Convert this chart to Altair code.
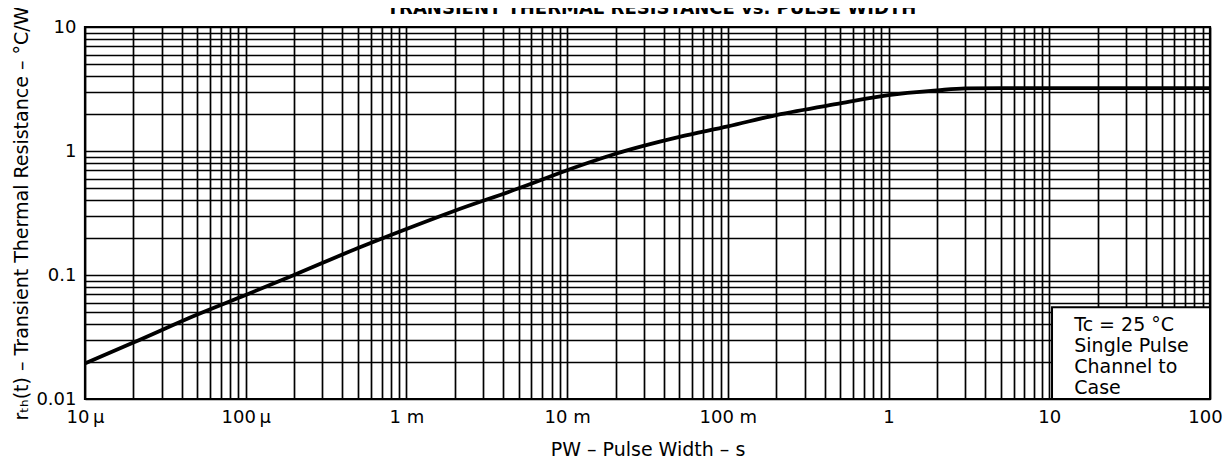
import json
import altair as alt
import pandas as pd

# ---- data ----
pulse_width = [1e-5, 2e-5, 5e-5, 1e-4, 2e-4, 5e-4, 1e-3, 2e-3, 5e-3, 1e-2, 2e-2,
               5e-2, 0.1, 0.2, 0.5, 1, 2, 3, 5, 10, 100]
r_th = [0.0194, 0.0285, 0.048, 0.069, 0.100, 0.165, 0.235, 0.33, 0.50, 0.70, 0.95,
        1.30, 1.58, 1.95, 2.42, 2.82, 3.08, 3.2, 3.22, 3.22, 3.22]

x_tick_labels = ["10\u2009\u00b5", "100\u2009\u00b5", "1 m", "10 m", "100 m", "1", "10", "100"]
y_tick_labels = ["0.01", "0.1", "1", "10"]

x_grid = [k * 10.0 ** e for e in range(-5, 2) for k in range(1, 10)] + [100.0]
y_grid = [k * 10.0 ** e for e in range(-2, 1) for k in range(1, 10)] + [10.0]

box_x = [10.4, 100]
box_y = [0.01, 0.055]
note_lines = ["Tc = 25 \u00b0C", "Single Pulse", "Channel to", "Case"]
note_pos = [14.3, 0.047]

chart_title = ["TRANSIENT THERMAL RESISTANCE vs. PULSE WIDTH"]

FONT = "DejaVu Sans"
W, H = 1125, 372

curve_df = pd.DataFrame({"pw": pulse_width, "r": r_th})
box_df = pd.DataFrame({"x": [box_x[0]], "x2": [box_x[1]], "y": [box_y[0]], "y2": [box_y[1]]})
note_df = pd.DataFrame({"x": [note_pos[0]], "y": [note_pos[1]]})
title_df = pd.DataFrame({"t": chart_title})


def label_expr(labels, first_exp):
    e = "round(log(datum.value)/LN10)"
    return (f"abs(log(datum.value)/LN10 - {e}) < 0.001 ? "
            f"{json.dumps(labels)}[{e} - ({first_exp})] : ''")


x_scale = alt.Scale(type="log", domain=[1e-5, 100], nice=False)
y_scale = alt.Scale(type="log", domain=[0.01, 10], nice=False)

x_axis = alt.Axis(
    values=x_grid, labelExpr=label_expr(x_tick_labels, -5), grid=True,
    labelOffset=alt.condition("datum.value >= 99", alt.value(-5), alt.value(0)),
    title="PW \u2013 Pulse Width \u2013 s", titlePadding=14,
)
y_axis = alt.Axis(values=y_grid, labelExpr=label_expr(y_tick_labels, -2), grid=True,
                  title="r\u209c\u2095(t) \u2013 Transient Thermal Resistance \u2013 \u00b0C/W",
                  titlePadding=4)

curve = alt.Chart(curve_df).mark_line(color="black", strokeWidth=3.8, interpolate="monotone").encode(
    x=alt.X("pw:Q", scale=x_scale, axis=x_axis),
    y=alt.Y("r:Q", scale=y_scale, axis=y_axis),
)

box = alt.Chart(box_df).mark_rect(fill="white", stroke="black", strokeWidth=2).encode(
    x="x:Q", x2="x2:Q", y="y:Q", y2="y2:Q"
)

note = alt.Chart(note_df).mark_text(
    text=note_lines, align="left", baseline="top", fontSize=19, lineHeight=21,
    font=FONT, color="black"
).encode(x="x:Q", y="y:Q")

# chart title, partly cut off by the top edge as in the reference
title = alt.Chart(title_df).mark_text(
    align="center", baseline="alphabetic", fontSize=18, fontWeight="bold",
    font=FONT, color="black", clip=False
).encode(x=alt.value(W / 2 + 4), y=alt.value(-13), text="t:N")

chart = alt.layer(curve, box, note, title).properties(
    width=W,
    height=H,
    padding={"left": 77, "top": 19, "right": 13, "bottom": 59},
    autosize=alt.AutoSizeParams(type="none"),
).configure_view(
    stroke="black", strokeWidth=2.2
).configure_axis(
    gridColor="black", gridWidth=1.7, gridOpacity=1,
    ticks=False, domain=False,
    labelFont=FONT, labelFontSize=18, labelColor="black",
    labelFlush=False, labelOverlap=False, labelPadding=9,
    titleFont=FONT, titleFontSize=19, titleFontWeight="normal", titleColor="black",
)

chart.save("out.html", embed_options={"renderer": "svg", "actions": False})
